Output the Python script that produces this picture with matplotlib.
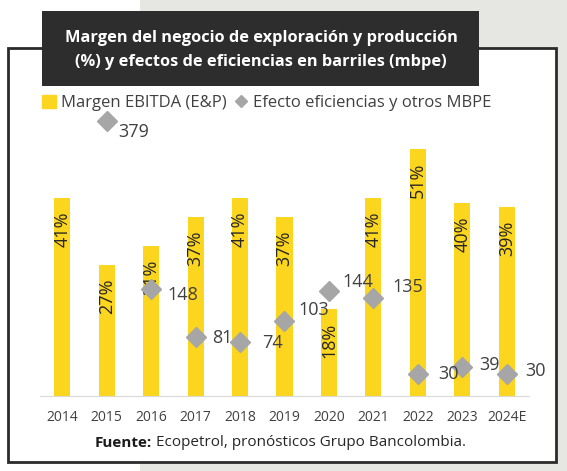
import matplotlib.pyplot as plt
from matplotlib.patches import Rectangle
from matplotlib.lines import Line2D

plt.rcParams['font.family'] = ['Open Sans', 'DejaVu Sans']

# data
years = ['2014', '2015', '2016', '2017', '2018', '2019', '2020', '2021', '2022', '2023', '2024E']
margen = [41, 27, 31, 37, 41, 37, 18, 41, 51, 40, 39]
efecto_idx = [1, 2, 3, 4, 5, 6, 7, 8, 9, 10]
efecto = [379, 148, 81, 74, 103, 144, 135, 30, 39, 30]
# label offsets (points) for the diamond labels
lbl_off = [(8, -8), (12, -5), (12, -1), (16, -1), (10, 8), (10, 7), (14, 8), (15, 0), (12, 2), (13, 2)]

W, H = 567, 471
fig = plt.figure(figsize=(W / 100, H / 100), dpi=100)

def fx(x):
    return x / W

def fy(y):
    return 1 - y / H

yellow = '#FCD51E'
gray = '#A6A6A6'
txt = '#404040'

# background panels
fig.patches.append(Rectangle((fx(140), 0), 1 - fx(140), 1, transform=fig.transFigure,
                             facecolor='#E6E6E3', edgecolor='none', zorder=0))
fig.patches.append(Rectangle((fx(8), fy(462)), fx(556) - fx(8), fy(48) - fy(462),
                             transform=fig.transFigure, facecolor='white',
                             edgecolor='#2b2b2b', linewidth=2, zorder=1))
fig.patches.append(Rectangle((fx(42), fy(86)), fx(479) - fx(42), fy(11) - fy(86),
                             transform=fig.transFigure, facecolor='#2d2d2d',
                             edgecolor='none', zorder=2))
fig.text(fx(261), fy(38), 'Margen del negocio de exploración y producción',
         color='white', fontsize=11.8, fontweight='bold', ha='center', va='center', zorder=3)
fig.text(fx(261), fy(62), '(%) y efectos de eficiencias en barriles (mbpe)',
         color='white', fontsize=11.8, fontweight='bold', ha='center', va='center', zorder=3)

ax = fig.add_axes([fx(40), 1 - 395.7 / H, fx(529) - fx(40), (395.7 - 106) / H], zorder=4)
ax.patch.set_alpha(0)
x = list(range(len(years)))
ax.bar(x, margen, width=0.36, color=yellow, zorder=2)
ax.set_xlim(-0.5, len(years) - 0.5)
ax.set_ylim(0, 60)
for s in ['top', 'right', 'left']:
    ax.spines[s].set_visible(False)
ax.spines['bottom'].set_color('#D9D9D9')
ax.set_yticks([])
ax.set_xticks(x)
ax.set_xticklabels(years, fontsize=10, color=txt)
ax.tick_params(axis='x', length=0, pad=10)
for i, v in enumerate(margen):
    ax.text(i, v - 2.8, f'{v}%', rotation=90, ha='center', va='top',
            fontsize=13, color='#262626', zorder=3)

ax2 = ax.twinx()
ax2.set_ylim(0, 400)
ax2.axis('off')
ax2.plot(efecto_idx, efecto, linestyle='none', marker='D', markersize=10,
         color=gray, zorder=3)
for i, v, (dx, dy) in zip(efecto_idx, efecto, lbl_off):
    ax2.annotate(str(v), (i, v), xytext=(dx, dy), textcoords='offset points',
                 ha='left', va='center', fontsize=13, color=txt)

handles = [Rectangle((0, 0), 1, 1, color=yellow),
           Line2D([], [], linestyle='none', marker='D', markersize=6, color=gray)]
fig.legend(handles, ['Margen EBITDA (E&P)', 'Efecto eficiencias y otros MBPE'],
           loc='center', bbox_to_anchor=(fx(267), fy(103)), ncol=2, frameon=False,
           fontsize=12, handlelength=0.8, handleheight=0.8, handletextpad=0.3,
           columnspacing=0.5, labelcolor=txt)

t1 = fig.text(fx(95), fy(443), 'Fuente:', fontsize=11, fontweight='bold',
              color='#1a1a1a', ha='left', va='center')
fig.canvas.draw()
bb = t1.get_window_extent()
fig.text(bb.x1 / W + fx(4), fy(443), 'Ecopetrol, pronósticos Grupo Bancolombia.',
         fontsize=11, color='#262626', ha='left', va='center')

fig.savefig('out.png', dpi=100)
